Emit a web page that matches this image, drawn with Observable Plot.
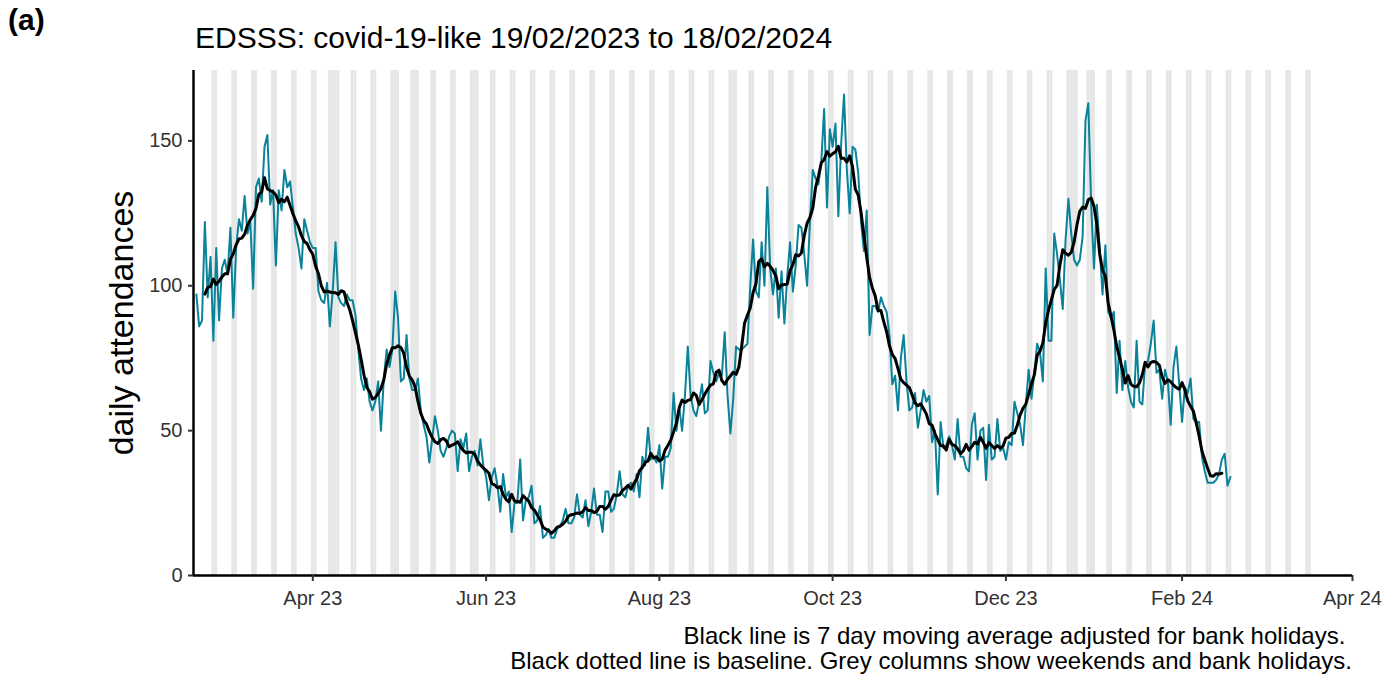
<!DOCTYPE html>
<html><head><meta charset="utf-8">
<script src="https://cdn.jsdelivr.net/npm/d3@7"></script>
<script src="https://cdn.jsdelivr.net/npm/@observablehq/plot@0.6"></script>
<style>
body{margin:0;background:#fff;font-family:"Liberation Sans",Arial,sans-serif;}
#wrap{width:1387px;height:675px;position:relative;overflow:hidden;background:#fff}
#head{position:relative;height:62px}
#tag{position:absolute;left:8px;top:5px;font-size:30px;font-weight:bold;line-height:30px;color:#000}
#title{position:absolute;left:195px;top:23px;font-size:30px;line-height:30px;color:#000;white-space:nowrap}
#chart svg{display:block}
#cap{text-align:right;padding-right:35px;font-size:24px;line-height:25px;padding-top:8px;color:#000;white-space:pre}
</style></head><body>
<div id="wrap">
<div id="head"><div id="tag">(a)</div><div id="title">EDSSS: covid-19-like 19/02/2023 to 18/02/2024</div></div>
<div id="chart"></div>
<div id="cap"></div>
</div>
<script>
// ---- data ----
const startDate = "2023-02-19";
const daily = [
97,86,88,122,96,110,81,113,88,106,
109,104,120,89,113,123,119,131,118,122,
99,134,137,129,148,152,128,133,107,133,
126,140,134,136,127,118,113,106,123,119,
115,113,113,98,95,94,101,86,98,115,
96,94,93,97,95,95,90,78,68,64,
68,60,57,60,67,50,68,78,72,78,
98,89,67,68,83,68,64,64,68,57,
52,48,39,47,55,50,43,41,44,48,
50,49,36,47,44,49,36,41,43,38,
47,38,34,26,34,37,31,22,35,27,
29,15,25,25,40,19,26,27,31,18,
19,24,
13,14,16,13,13,16,17,19,
23,18,18,20,28,21,20,26,17,22,
30,21,21,15,29,29,22,23,28,36,
28,27,31,32,29,35,27,41,38,51,
40,41,39,45,30,41,41,44,63,50,
58,50,62,79,62,57,55,60,66,56,
57,74,
70,67,70,69,84,62,49,61,
79,78,78,79,80,100,116,98,96,115,
100,134,106,97,106,89,105,87,103,115,
98,107,121,120,111,100,122,140,137,135,
143,161,127,154,148,156,124,149,166,140,
125,148,147,139,122,112,126,83,93,93,
91,96,
93,91,83,66,69,57,75,83,
67,57,58,63,51,57,64,60,62,46,
50,28,53,44,45,48,45,40,54,41,
41,37,36,52,56,40,50,51,33,52,
40,41,54,43,44,40,46,45,60,56,
52,45,59,71,61,70,80,77,67,106,
81,81,118,111,102,92,116,130,118,109,
107,109,117,157,163,128,106,128,113,97,
114,91,89,91,63,81,64,74,65,60,
58,81,60,59,73,74,80,88,70,71,
61,71,67,52,72,79,66,53,65,63,
68,54,53,53,41,36,32,32,32,33,
35,40,42,31,34
];
const bankHolidays = ["2023-04-07","2023-04-10","2023-05-01","2023-05-08","2023-05-29","2023-08-28","2023-12-25","2023-12-26","2024-01-01"];
const greyStart = "2023-02-25";
const greyEnd = "2024-03-17";
const xDomain = ["2023-02-18","2024-04-01"];
const xTicks = ["2023-04-01","2023-06-01","2023-08-01","2023-10-01","2023-12-01","2024-02-01","2024-04-01"];
const yTicks = [0,50,100,150];
const yMax = 174.3;
const yLabel = "daily attendances";
const captionLines = [
  "Black line is 7 day moving average adjusted for bank holidays.\u00a0",
  "Black dotted line is baseline. Grey columns show weekends and bank holidays."
];

// ---- build ----
document.getElementById("cap").textContent = captionLines.join("\n");
const parse = d3.utcParse("%Y-%m-%d");
const t0 = parse(startDate);
const data = daily.map((v, i) => ({date: d3.utcDay.offset(t0, i), value: v}));
const bh = new Set(bankHolidays);
const fmtKey = d3.utcFormat("%Y-%m-%d");
const greyDays = d3.utcDay.range(parse(greyStart), d3.utcDay.offset(parse(greyEnd), 1))
  .filter(d => d.getUTCDay() === 0 || d.getUTCDay() === 6 || bh.has(fmtKey(d)))
  .map(d => ({x1: d3.utcHour.offset(d, -12), x2: d3.utcHour.offset(d, 12)}));

const chart = Plot.plot({
  width: 1387,
  height: 553,
  marginLeft: 193,
  marginRight: 35,
  marginTop: 8,
  marginBottom: 40,
  style: {fontFamily: '"Liberation Sans", Arial, sans-serif', background: "#fff"},
  x: {type: "utc", domain: xDomain.map(parse)},
  y: {domain: [0, yMax]},
  marks: [
    Plot.rectY(greyDays, {x1: "x1", x2: "x2", y1: 0, y2: yMax, fill: "#e6e6e6"}),
    Plot.lineY(data, {x: "date", y: "value", stroke: "#0a8299", strokeWidth: 2}),
    Plot.lineY(data, Plot.windowY({k: 7, strict: true}, {x: "date", y: "value", stroke: "#000", strokeWidth: 3})),
    Plot.ruleY([0], {stroke: "#000", strokeWidth: 2.5}),
    Plot.ruleX([parse(xDomain[0])], {stroke: "#000", strokeWidth: 2.5}),
    Plot.axisX({ticks: xTicks.map(parse), tickFormat: d3.utcFormat("%b %y"), tickSize: 6, tickPadding: 9, fontSize: 20, color: "#333", stroke: "#333", strokeWidth: 2, label: null}),
    Plot.axisY({ticks: yTicks, tickSize: 5, tickPadding: 6, fontSize: 20, color: "#333", stroke: "#333", strokeWidth: 2, label: null}),
    Plot.text([yLabel], {frameAnchor: "left", dx: -71, rotate: -90, textAnchor: "middle", fontSize: 34, fill: "#000", text: d => d})
  ]
});
document.getElementById("chart").appendChild(chart);
</script>
</body></html>
